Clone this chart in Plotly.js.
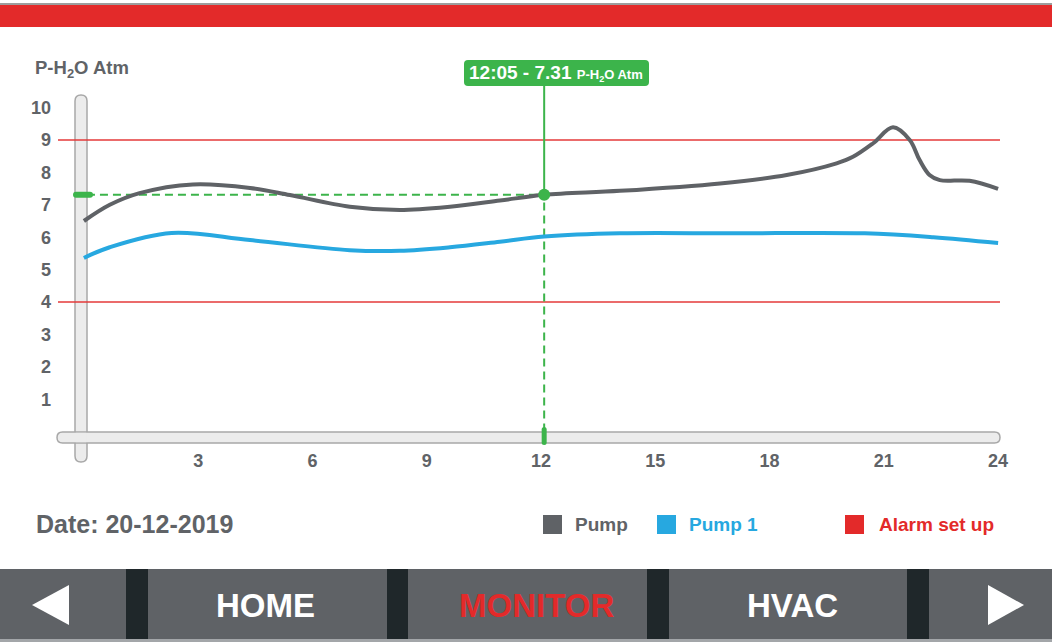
<!DOCTYPE html>
<html>
<head>
<meta charset="utf-8">
<script src="https://cdn.plot.ly/plotly-3.0.1.min.js"></script>
<style>
  html, body { margin: 0; padding: 0; background: #fff; overflow: hidden; }
  #chart { width: 1052px; height: 642px; }
</style>
</head>
<body>
<div id="chart"></div>
<script>
// Water pressure readings through the day (hour of day -> atm)
const pumpHours  = [0, 0.68, 1.46, 2.86, 4.36, 5.41, 6.98, 8.29, 9.61, 10.92, 12.083, 14.07, 16.7, 18.45, 19.76, 20.19, 20.72, 21.24, 21.68, 21.94, 22.2, 22.47, 23.25, 24];
const pumpValues = [6.5, 7.0, 7.36, 7.63, 7.52, 7.30, 6.94, 6.84, 6.94, 7.13, 7.31, 7.43, 7.66, 7.92, 8.28, 8.48, 8.9, 9.39, 9.0, 8.38, 7.92, 7.76, 7.74, 7.49];

const pump1Hours  = [0, 0.68, 2.3, 4.36, 6.98, 8.29, 9.61, 10.92, 12.083, 14.07, 17, 20.5, 22.3, 24];
const pump1Values = [5.36, 5.69, 6.13, 5.91, 5.6, 5.58, 5.69, 5.86, 6.02, 6.12, 6.12, 6.12, 6.0, 5.82];

const alarmLevels = [4, 9];

const xTickValues = [3, 6, 9, 12, 15, 18, 21, 24];
const yTickValues = [1, 2, 3, 4, 5, 6, 7, 8, 9, 10];

// Cursor readout
const cursorTime = 12 + 5 / 60;
const cursorLabel = '12:05';
const cursorValue = 7.31;

const unitLabel = 'P-H<sub>2</sub>O Atm';
const dateLabel = 'Date: 20-12-2019';
const seriesNames = ['Pump', 'Pump 1', 'Alarm set up'];
const navItems = ['HOME', 'MONITOR', 'HVAC'];

// Palette
const GREY = '#5f6266';
const TEXT_GREY = '#606367';
const BLUE = '#27a8e0';
const RED = '#e32a2a';
const GREEN = '#3cb44b';
const FONT = 'Liberation Sans, Arial, Helvetica, sans-serif';

// Page geometry
const W = 1052, H = 642;
const M = { l: 58, r: 52, t: 90, b: 194 };
const plotW = W - M.l - M.r;
const plotH = H - M.t - M.b;
const X = px => +((px - M.l) / plotW).toFixed(5);
const Y = py => +((H - M.b - py) / plotH).toFixed(5);

// Rounded rectangle in page pixels -> paper path
function roundRect(x0, y0, x1, y1, r) {
  const f = (x, y) => X(x) + ',' + Y(y);
  return `M${f(x0 + r, y0)} L${f(x1 - r, y0)} Q${f(x1, y0)} ${f(x1, y0 + r)} ` +
         `L${f(x1, y1 - r)} Q${f(x1, y1)} ${f(x1 - r, y1)} L${f(x0 + r, y1)} ` +
         `Q${f(x0, y1)} ${f(x0, y1 - r)} L${f(x0, y0 + r)} Q${f(x0, y0)} ${f(x0 + r, y0)} Z`;
}
// Rounded rectangle in pixels around an anchor (pixel sizemode, y up)
function pill(w, h) {
  const r = Math.min(w, h) / 2, x0 = -w / 2, x1 = w / 2, y0 = -h / 2, y1 = h / 2;
  const f = (x, y) => x + ',' + y;
  return `M${f(x0 + r, y0)} L${f(x1 - r, y0)} Q${f(x1, y0)} ${f(x1, y0 + r)} ` +
         `L${f(x1, y1 - r)} Q${f(x1, y1)} ${f(x1 - r, y1)} L${f(x0 + r, y1)} ` +
         `Q${f(x0, y1)} ${f(x0, y1 - r)} L${f(x0, y0 + r)} Q${f(x0, y0)} ${f(x0 + r, y0)} Z`;
}
const rectPx = (x0, y0, x1, y1, color, layer) => ({
  type: 'rect', xref: 'paper', yref: 'paper',
  x0: X(x0), x1: X(x1), y0: Y(y1), y1: Y(y0),
  fillcolor: color, line: { width: 0 }, layer: layer || 'below'
});

const shapes = [];

// Header band
shapes.push(rectPx(0, 3, W, 5, '#9d9d9d'));
shapes.push(rectPx(0, 5, W, 27, RED));

// Axis rails
const RAIL_FILL = '#ececec', RAIL_LINE = '#a8a8a8';
shapes.push({ type: 'path', xref: 'paper', yref: 'paper', path: roundRect(75, 95, 87, 462, 6),
  fillcolor: RAIL_FILL, line: { color: RAIL_LINE, width: 1.5 }, layer: 'below' });
shapes.push({ type: 'path', xref: 'paper', yref: 'paper', path: roundRect(57, 432, 1000, 443, 5.5),
  fillcolor: RAIL_FILL, line: { color: RAIL_LINE, width: 1.5 }, layer: 'below' });
shapes.push(rectPx(75.8, 432.8, 86.2, 442.2, RAIL_FILL));

// Alarm thresholds
alarmLevels.forEach(level => shapes.push({
  type: 'line', xref: 'paper', yref: 'y', x0: 0, x1: 1, y0: level, y1: level,
  line: { color: '#e53a3a', width: 1.5 }, layer: 'below'
}));

// Cursor guides
shapes.push({ type: 'line', xref: 'x', yref: 'y', x0: 0.08, x1: cursorTime, y0: cursorValue, y1: cursorValue,
  line: { color: GREEN, width: 2, dash: '8px,5px' }, layer: 'below' });
shapes.push({ type: 'line', xref: 'x', yref: 'y', x0: cursorTime, x1: cursorTime, y0: 0, y1: cursorValue,
  line: { color: GREEN, width: 2, dash: '8px,5px' }, layer: 'below' });
shapes.push({ type: 'line', xref: 'x', yref: 'paper', x0: cursorTime, x1: cursorTime, y0: Y(86), y1: Y(190),
  line: { color: GREEN, width: 2 }, layer: 'above' });

// Cursor markers on the rails
shapes.push({ type: 'path', xref: 'paper', yref: 'y', xsizemode: 'pixel', ysizemode: 'pixel',
  xanchor: X(83), yanchor: cursorValue, path: pill(20, 6), fillcolor: GREEN, line: { width: 0 }, layer: 'above' });
shapes.push({ type: 'path', xref: 'x', yref: 'paper', xsizemode: 'pixel', ysizemode: 'pixel',
  xanchor: cursorTime, yanchor: Y(436), path: pill(5, 18), fillcolor: GREEN, line: { width: 0 }, layer: 'above' });

// Readout box
shapes.push({ type: 'path', xref: 'paper', yref: 'paper', path: roundRect(464, 60, 649, 86, 4),
  fillcolor: GREEN, line: { width: 0 }, layer: 'above' });

// Legend swatches
[[543, GREY], [657, BLUE], [845, RED]].forEach(([x, c]) => shapes.push(rectPx(x, 515, x + 19, 534, c, 'above')));

// Navigation bar
shapes.push(rectPx(0, 569, W, 639, '#5f6266'));
shapes.push(rectPx(0, 639, W, 642, '#a3a6a9'));
[[126, 148], [387, 408], [647, 669], [907, 929]].forEach(([a, b]) => shapes.push(rectPx(a, 569, b, 639, '#1f272a')));
const tri = pts => 'M' + pts.map(p => X(p[0]) + ',' + Y(p[1])).join(' L') + ' Z';
shapes.push({ type: 'path', xref: 'paper', yref: 'paper', path: tri([[32, 605], [69, 585], [69, 625]]),
  fillcolor: '#ffffff', line: { width: 0 }, layer: 'below' });
shapes.push({ type: 'path', xref: 'paper', yref: 'paper', path: tri([[1024, 605], [988, 585], [988, 625]]),
  fillcolor: '#ffffff', line: { width: 0 }, layer: 'below' });

const txt = (text, x, y, size, color, xanchor) => ({
  xref: 'paper', yref: 'paper', x: X(x), y: Y(y), text, showarrow: false,
  xanchor: xanchor || 'left', yanchor: 'middle',
  font: { family: FONT, size, color, weight: 700 }
});

const annotations = [
  txt(unitLabel, 33, 69, 18.5, TEXT_GREY),
  txt(`${cursorLabel} - ${cursorValue.toFixed(2)} <span style="font-size:13px">${unitLabel}</span>`, 556, 73.5, 19, '#ffffff', 'center'),
  txt(dateLabel, 34, 524, 25, TEXT_GREY),
  txt(seriesNames[0], 573, 525, 19, TEXT_GREY),
  txt(seriesNames[1], 687, 525, 19, BLUE),
  txt(seriesNames[2], 877, 525, 19, RED),
  txt(navItems[0], 265.5, 606, 33, '#ffffff', 'center'),
  txt(navItems[1], 537, 606, 33, RED, 'center'),
  txt(navItems[2], 792.5, 606, 33, '#ffffff', 'center')
];

const traces = [
  { x: pumpHours, y: pumpValues, name: seriesNames[0], type: 'scatter', mode: 'lines',
    line: { color: GREY, width: 4, shape: 'spline', smoothing: 1 }, hoverinfo: 'skip' },
  { x: pump1Hours, y: pump1Values, name: seriesNames[1], type: 'scatter', mode: 'lines',
    line: { color: BLUE, width: 4, shape: 'spline', smoothing: 1 }, hoverinfo: 'skip' },
  { x: [cursorTime], y: [cursorValue], type: 'scatter', mode: 'markers',
    marker: { color: GREEN, size: 12 }, hoverinfo: 'skip' }
];

const axisFont = { family: FONT, size: 18, color: TEXT_GREY, weight: 700 };

const layout = {
  width: W, height: H,
  margin: M,
  paper_bgcolor: '#ffffff', plot_bgcolor: 'rgba(0,0,0,0)',
  showlegend: false,
  xaxis: { range: [-0.68, 24.05], tickvals: xTickValues, ticktext: xTickValues.map(String),
    showgrid: false, zeroline: false, showline: false, ticks: '', tickfont: axisFont, fixedrange: true },
  yaxis: { range: [-0.506, 10.543], tickvals: yTickValues, ticktext: yTickValues.map(String),
    showgrid: false, zeroline: false, showline: false, ticks: '', tickfont: axisFont,
    ticklabelstandoff: 6, fixedrange: true },
  shapes, annotations
};

Plotly.newPlot('chart', traces, layout, { staticPlot: true, displayModeBar: false });
</script>
</body>
</html>
